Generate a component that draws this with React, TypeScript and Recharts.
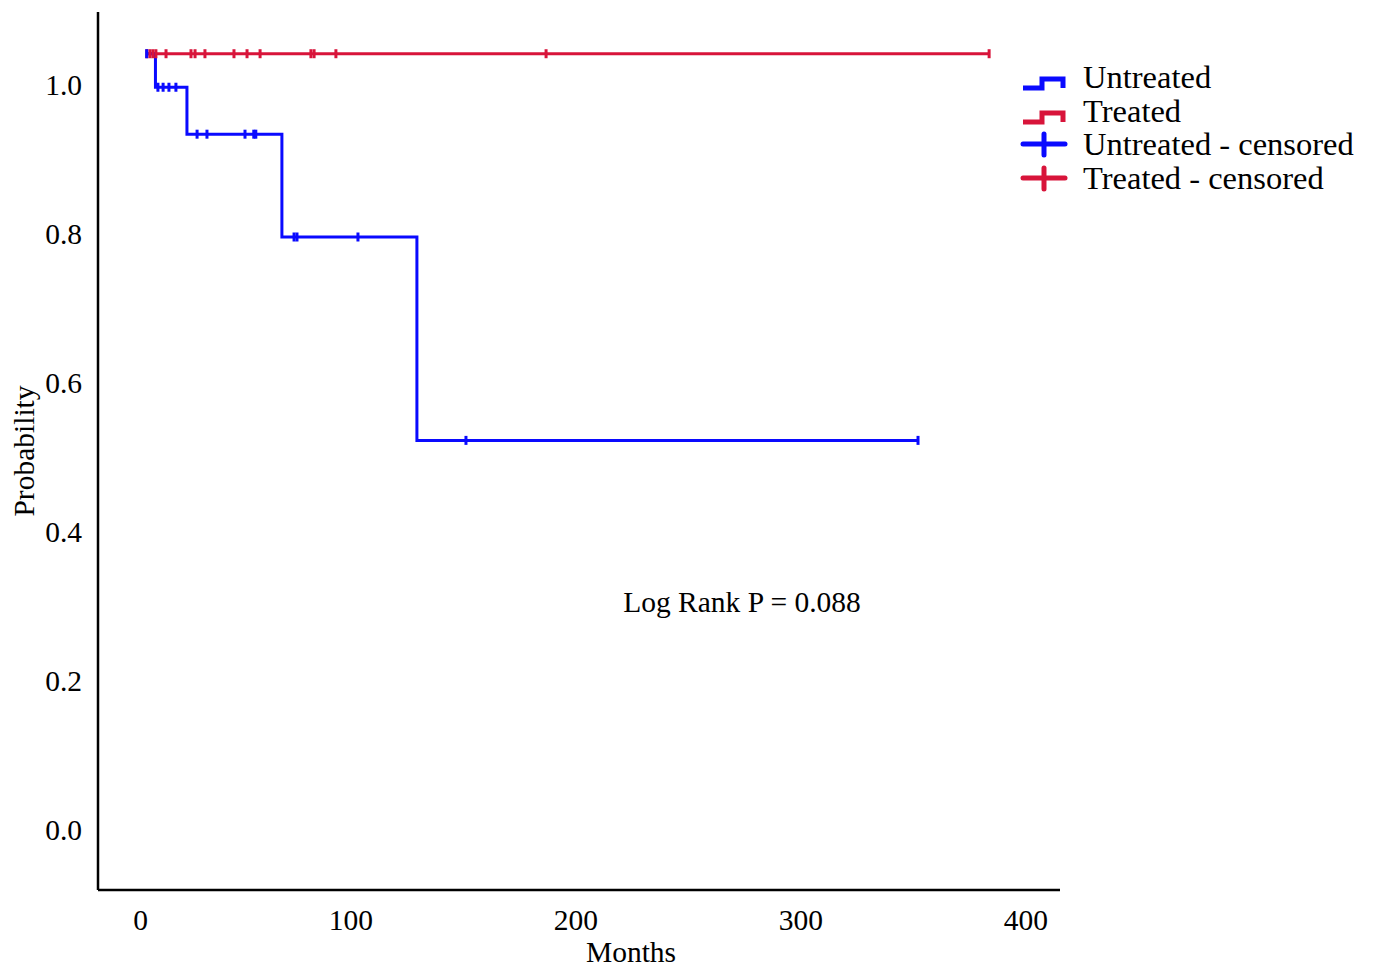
import React from 'react';
import { ComposedChart, Line, Scatter, XAxis, YAxis } from 'recharts';

const FONT = '"Liberation Serif", "Times New Roman", serif';
const BLUE = '#0a0aff';
const RED = '#d8143a';
const FS = 29.5;

const xTicks = [0, 100, 200, 300, 400];
const yTicks = [0, 0.2, 0.4, 0.6, 0.8, 1.0];

// Kaplan-Meier step curves (time in months, probability)
const untreatedTimes = [0, 4.2, 18.2, 60.4, 120.4, 343.1];
const untreatedSurv = [1.042, 0.997, 0.934, 0.796, 0.523, 0.523];
const treatedTimes = [0, 374.7];
const treatedSurv = [1.042, 1.042];

// censored observations (months)
const untreatedCensorTimes = [0.3, 5.3, 7.6, 10.2, 13.3, 22.7, 27.1, 44.0, 47.9, 48.8, 65.8, 67.1, 94.2, 142.2, 343.1];
const treatedCensorTimes = [0.4, 1.8, 3.1, 4.4, 8.9, 20.0, 21.8, 26.2, 39.1, 44.9, 50.7, 73.3, 74.7, 84.4, 177.8, 374.7];

const legendLabels = ['Untreated', 'Treated', 'Untreated - censored', 'Treated - censored'];
const legendColors = [BLUE, RED, BLUE, RED];
const legendKinds = ['step', 'step', 'plus', 'plus'];

const toPoints = (ts: number[], ss: number[]) => ts.map((t, i) => ({ t, s: ss[i] }));
const survAt = (ts: number[], ss: number[], t: number) => {
  let v = ss[0];
  for (let i = 0; i < ts.length; i++) if (ts[i] <= t) v = ss[i];
  return v;
};
const censorPoints = (cs: number[], ts: number[], ss: number[]) =>
  cs.map((t) => ({ t, s: survAt(ts, ss, t) }));

const untreatedData = toPoints(untreatedTimes, untreatedSurv);
const treatedData = toPoints(treatedTimes, treatedSurv);
const untreatedCensored = censorPoints(untreatedCensorTimes, untreatedTimes, untreatedSurv);
const treatedCensored = censorPoints(treatedCensorTimes, treatedTimes, treatedSurv);

const tickMark = (color: string) => (props: any) => {
  const { cx, cy } = props;
  return <line x1={cx} x2={cx} y1={cy - 4.5} y2={cy + 4.5} stroke={color} strokeWidth={3} />;
};

const XTick = (props: any) => {
  const { x, y, payload } = props;
  return (
    <text x={x + 2} y={y + 40} textAnchor="end" fill="#000" fontSize={FS} fontFamily={FONT}>
      {payload.value}
    </text>
  );
};

export default function App() {
  return (
    <div style={{ position: 'absolute', left: 0, top: 0, width: 1375, height: 968, background: '#fff' }}>
      <ComposedChart
        width={1375}
        height={968}
        margin={{ top: 12, right: 315, bottom: 0, left: 0 }}
      >
        <XAxis
          type="number"
          dataKey="t"
          domain={[-21.33, 406.2]}
          ticks={xTicks}
          allowDataOverflow
          height={78}
          tickLine={false}
          tickSize={0}
          tickMargin={0}
          axisLine={{ stroke: '#000', strokeWidth: 2.5 }}
          tick={<XTick />}
          label={{
            content: (p: any) => {
              const vb = p.viewBox;
              return (
                <text x={vb.x + vb.width / 2 + 52} y={962} textAnchor="middle" fill="#000" fontSize={FS} fontFamily={FONT}>
                  Months
                </text>
              );
            },
          }}
        />
        <YAxis
          type="number"
          dataKey="s"
          domain={[-0.0805, 1.098]}
          ticks={yTicks}
          allowDataOverflow
          width={98}
          tickLine={false}
          tickSize={0}
          tickMargin={16}
          axisLine={{ stroke: '#000', strokeWidth: 2.5 }}
          tickFormatter={(v: number) => v.toFixed(1)}
          tick={{ fill: '#000', fontSize: FS, fontFamily: FONT }}
          label={{
            content: (p: any) => {
              const vb = p.viewBox;
              const cy = vb.y + vb.height / 2;
              return (
                <text x={34} y={cy} transform={`rotate(-90, 34, ${cy})`} textAnchor="middle" fill="#000" fontSize={FS} fontFamily={FONT}>
                  Probability
                </text>
              );
            },
          }}
        />
        <Line data={treatedData} dataKey="s" type="stepAfter" stroke={RED} strokeWidth={3} dot={false} isAnimationActive={false} />
        <Line data={untreatedData} dataKey="s" type="stepAfter" stroke={BLUE} strokeWidth={3} dot={false} isAnimationActive={false} />
        <Scatter data={treatedCensored} dataKey="s" shape={tickMark(RED)} isAnimationActive={false} />
        <Scatter data={untreatedCensored} dataKey="s" shape={tickMark(BLUE)} isAnimationActive={false} />
      </ComposedChart>

      <div
        style={{
          position: 'absolute',
          left: 600,
          top: 582,
          width: 284,
          textAlign: 'center',
          fontFamily: FONT,
          fontSize: FS,
          lineHeight: '40px',
          color: '#000',
          whiteSpace: 'nowrap',
        }}
      >
        Log Rank P = 0.088
      </div>

      {legendLabels.map((label, i) => {
        const top = 61 + i * 33.7;
        return (
          <React.Fragment key={label}>
            <svg style={{ position: 'absolute', left: 1018, top }} width={52} height={34}>
              {legendKinds[i] === 'step' ? (
                <path d="M5,27 H24 V18 H45 V27" stroke={legendColors[i]} strokeWidth={5} fill="none" />
              ) : (
                <g stroke={legendColors[i]} strokeWidth={5} strokeLinecap="round">
                  <line x1={5} x2={47} y1={16} y2={16} />
                  <line x1={26} x2={26} y1={6} y2={27} />
                </g>
              )}
            </svg>
            <div
              style={{
                position: 'absolute',
                left: 1083,
                top,
                height: 33.7,
                lineHeight: '33.7px',
                fontFamily: FONT,
                fontSize: 32.5,
                color: '#000',
                whiteSpace: 'nowrap',
              }}
            >
              {label}
            </div>
          </React.Fragment>
        );
      })}
    </div>
  );
}
